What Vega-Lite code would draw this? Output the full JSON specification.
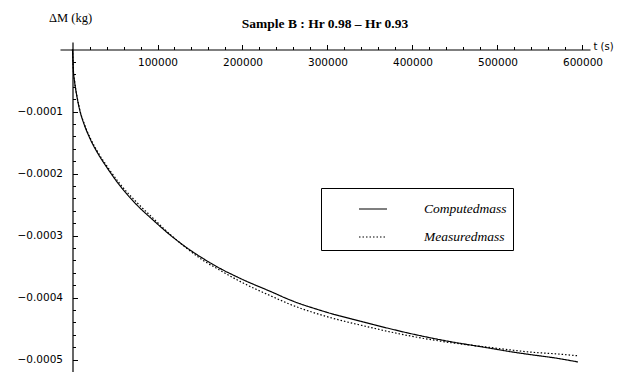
{
  "$schema": "https://vega.github.io/schema/vega-lite/v6.json",
  "width": 530,
  "height": 330,
  "autosize": {"type": "none"},
  "padding": {"left": 60, "top": 42, "right": 38, "bottom": 0},
  "background": "white",
  "config": {"view": {"stroke": null}, "axis": {"grid": false, "domainColor": "black", "tickColor": "black", "labelColor": "black", "titleColor": "black", "domainWidth": 1.2, "tickWidth": 1}},
  "title": {"text": "Sample B : Hr 0.98 – Hr 0.93", "font": "Liberation Serif", "fontSize": 13.5, "fontWeight": "bold", "color": "black", "anchor": "middle", "frame": "group", "baseline": "alphabetic", "offset": 0, "dy": 30},
  "datasets": {
    "mass": [
      {"t": 0, "dm": 0, "series": "Computedmass"},
      {"t": 1000, "dm": -0.0000332, "series": "Computedmass"},
      {"t": 2500, "dm": -0.0000525, "series": "Computedmass"},
      {"t": 5000, "dm": -0.0000742, "series": "Computedmass"},
      {"t": 8800, "dm": -0.0000994, "series": "Computedmass"},
      {"t": 14000, "dm": -0.0001219, "series": "Computedmass"},
      {"t": 21000, "dm": -0.0001449, "series": "Computedmass"},
      {"t": 30000, "dm": -0.000168, "series": "Computedmass"},
      {"t": 41000, "dm": -0.0001914, "series": "Computedmass"},
      {"t": 56000, "dm": -0.000220, "series": "Computedmass"},
      {"t": 75900, "dm": -0.000251, "series": "Computedmass"},
      {"t": 94700, "dm": -0.000275, "series": "Computedmass"},
      {"t": 114700, "dm": -0.000299, "series": "Computedmass"},
      {"t": 134700, "dm": -0.000320, "series": "Computedmass"},
      {"t": 153500, "dm": -0.000337, "series": "Computedmass"},
      {"t": 173500, "dm": -0.000353, "series": "Computedmass"},
      {"t": 197000, "dm": -0.000369, "series": "Computedmass"},
      {"t": 235900, "dm": -0.000392, "series": "Computedmass"},
      {"t": 255900, "dm": -0.000404, "series": "Computedmass"},
      {"t": 294700, "dm": -0.000422, "series": "Computedmass"},
      {"t": 346500, "dm": -0.000441, "series": "Computedmass"},
      {"t": 397100, "dm": -0.000458, "series": "Computedmass"},
      {"t": 435900, "dm": -0.000469, "series": "Computedmass"},
      {"t": 487600, "dm": -0.000481, "series": "Computedmass"},
      {"t": 518200, "dm": -0.000488, "series": "Computedmass"},
      {"t": 538200, "dm": -0.000492, "series": "Computedmass"},
      {"t": 570000, "dm": -0.000498, "series": "Computedmass"},
      {"t": 594700, "dm": -0.000504, "series": "Computedmass"},
      {"t": 0, "dm": 0, "series": "Measuredmass"},
      {"t": 1000, "dm": -0.0000325, "series": "Measuredmass"},
      {"t": 2500, "dm": -0.0000515, "series": "Measuredmass"},
      {"t": 5000, "dm": -0.0000735, "series": "Measuredmass"},
      {"t": 8800, "dm": -0.0000985, "series": "Measuredmass"},
      {"t": 14000, "dm": -0.0001205, "series": "Measuredmass"},
      {"t": 21000, "dm": -0.0001432, "series": "Measuredmass"},
      {"t": 30000, "dm": -0.000166, "series": "Measuredmass"},
      {"t": 41000, "dm": -0.000189, "series": "Measuredmass"},
      {"t": 56000, "dm": -0.000217, "series": "Measuredmass"},
      {"t": 75900, "dm": -0.000247, "series": "Measuredmass"},
      {"t": 94700, "dm": -0.000272, "series": "Measuredmass"},
      {"t": 114700, "dm": -0.000298, "series": "Measuredmass"},
      {"t": 134700, "dm": -0.000321, "series": "Measuredmass"},
      {"t": 153500, "dm": -0.000340, "series": "Measuredmass"},
      {"t": 173500, "dm": -0.000356, "series": "Measuredmass"},
      {"t": 197000, "dm": -0.000374, "series": "Measuredmass"},
      {"t": 235900, "dm": -0.000399, "series": "Measuredmass"},
      {"t": 255900, "dm": -0.000411, "series": "Measuredmass"},
      {"t": 294700, "dm": -0.000429, "series": "Measuredmass"},
      {"t": 346500, "dm": -0.000447, "series": "Measuredmass"},
      {"t": 397100, "dm": -0.000462, "series": "Measuredmass"},
      {"t": 435900, "dm": -0.000471, "series": "Measuredmass"},
      {"t": 487600, "dm": -0.000480, "series": "Measuredmass"},
      {"t": 518200, "dm": -0.000485, "series": "Measuredmass"},
      {"t": 538200, "dm": -0.000488, "series": "Measuredmass"},
      {"t": 570000, "dm": -0.000491, "series": "Measuredmass"},
      {"t": 594700, "dm": -0.000494, "series": "Measuredmass"}
    ]
  },
  "data": {"name": "mass"},
  "resolve": {"axis": {"x": "independent", "y": "independent"}},
  "layer": [
    {
      "mark": {"type": "line", "color": "black", "strokeWidth": 1.2, "interpolate": "monotone"},
      "encoding": {
        "x": {"field": "t", "type": "quantitative", "scale": {"domain": [-14706, 608824], "nice": false, "zero": false},
          "axis": {"orient": "top", "offset": -7.5, "title": null, "labels": false, "values": [100000, 200000, 300000, 400000, 500000, 600000], "tickSize": 5, "domain": true}},
        "y": {"field": "dm", "type": "quantitative", "scale": {"domain": [-0.00052016, 0.0000121], "nice": false, "zero": false},
          "axis": {"orient": "right", "offset": -517.5, "title": null, "labels": false, "values": [-0.0001, -0.0002, -0.0003, -0.0004, -0.0005], "tickSize": 5, "domain": true}},
        "strokeDash": {"field": "series", "type": "nominal",
          "scale": {"domain": ["Computedmass", "Measuredmass"], "range": [[1, 0], [1.5, 2]]},
          "legend": {"title": null, "orient": "none", "legendX": 261, "legendY": 146, "direction": "vertical",
            "fillColor": "white", "strokeColor": "black", "padding": 6,
            "symbolType": "stroke", "symbolSize": 784, "symbolStrokeColor": "black", "symbolStrokeWidth": 1.2, "symbolOffset": 31,
            "labelFont": "Liberation Serif", "labelFontStyle": "italic", "labelFontSize": 13.5, "labelColor": "black", "labelOffset": 36, "rowPadding": 6, "labelLimit": 200}}
      }
    },
    {
      "mark": {"type": "point", "opacity": 0},
      "encoding": {
        "x": {"field": "t", "type": "quantitative",
          "axis": {"orient": "top", "offset": -7.5, "title": null, "labels": false, "domain": false, "tickSize": 3,
            "values": [20000, 40000, 60000, 80000, 120000, 140000, 160000, 180000, 220000, 240000, 260000, 280000, 320000, 340000, 360000, 380000, 420000, 440000, 460000, 480000, 520000, 540000, 560000, 580000]}},
        "y": {"field": "dm", "type": "quantitative",
          "axis": {"orient": "right", "offset": -517.5, "title": null, "labels": false, "domain": false, "tickSize": 3,
            "values": [-0.00002, -0.00004, -0.00006, -0.00008, -0.00012, -0.00014, -0.00016, -0.00018, -0.00022, -0.00024, -0.00026, -0.00028, -0.00032, -0.00034, -0.00036, -0.00038, -0.00042, -0.00044, -0.00046, -0.00048, -0.00052]}}
      }
    },
    {
      "mark": {"type": "point", "opacity": 0},
      "encoding": {
        "x": {"field": "t", "type": "quantitative",
          "axis": {"orient": "bottom", "offset": -322.5, "domain": false, "ticks": false, "tickSize": 0, "labelPadding": 8,
            "values": [100000, 200000, 300000, 400000, 500000, 600000], "format": "d",
            "labelFont": "DejaVu Sans", "labelFontSize": 10.5, "labelBaseline": "top",
            "title": "t (s)", "titleFont": "DejaVu Sans", "titleFontSize": 10, "titleFontWeight": "normal",
            "titleX": 533, "titleY": -3, "titleAlign": "left", "titleBaseline": "middle"}},
        "y": {"field": "dm", "type": "quantitative",
          "axis": {"orient": "left", "offset": -12.5, "domain": false, "ticks": false, "tickSize": 0, "labelPadding": 10,
            "values": [-0.0001, -0.0002, -0.0003, -0.0004, -0.0005], "format": ".4f",
            "labelFont": "DejaVu Sans", "labelFontSize": 10.5,
            "title": "ΔM (kg)", "titleFont": "Liberation Serif", "titleFontSize": 12.5, "titleFontWeight": "normal", "titleAngle": 0,
            "titleX": -2.5, "titleY": -25, "titleAlign": "center", "titleBaseline": "middle"}}
      }
    }
  ]
}
